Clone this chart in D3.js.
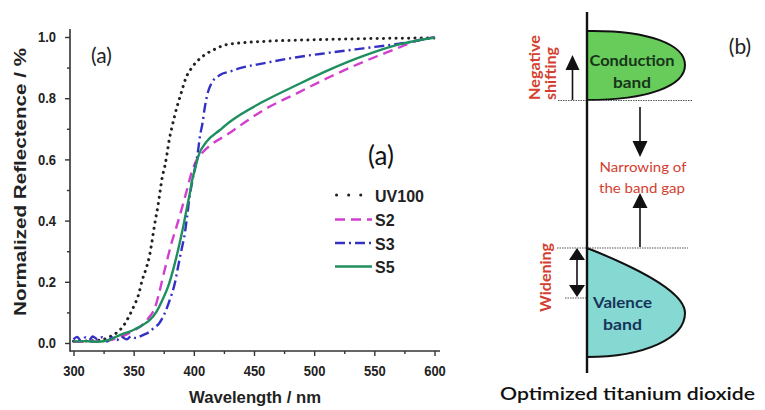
<!DOCTYPE html>
<html lang="en">
<head>
<meta charset="UTF-8">
<title>Reflectance spectra and band diagram</title>
<script src="https://d3js.org/d3.v7.min.js"></script>
<style>
    body { margin: 0; background: #fff; }
    .tick text { font-family: "Liberation Sans", Arial, sans-serif; font-weight: bold; font-size: 13px; fill: #222; }
    .axis-label { font-family: "Liberation Sans", Arial, sans-serif; font-weight: bold; fill: #222; }
    .legend text { font-family: "Liberation Sans", Arial, sans-serif; font-weight: bold; font-size: 16px; fill: #222; }
    .cal { font-family: Lato, "Open Sans", sans-serif; }
    .red { fill: #d4402f; font-weight: bold; }
</style>
</head>
<body>
<svg id="chart" width="765" height="410"></svg>
<script>
// wavelength (nm), normalized reflectance
const uv100 = [[300,0.006],[315,0.007],[325,0.012],[331,0.022],[337,0.037],[342,0.059],[346,0.086],[350,0.119],
    [354,0.157],[357,0.204],[360,0.239],[363,0.282],[365,0.326],[366.5,0.364],[368.3,0.407],[370.3,0.451],
    [371.8,0.491],[373.6,0.538],[375.8,0.576],[377.8,0.62],[379.5,0.663],[381.5,0.70],[384.2,0.745],
    [387,0.785],[389.8,0.821],[393.3,0.865],[398,0.898],[404.4,0.927],[412,0.949],[419,0.963],[426,0.974],
    [440,0.981],[460,0.986],[500,0.991],[550,0.995],[600,0.997]];
const s2 = [[300,0.004],[320,0.005],[335,0.014],[345,0.03],[352,0.045],[358,0.062],[363,0.085],[367.5,0.113],
    [371.1,0.162],[374.4,0.217],[377.8,0.271],[381.4,0.326],[385.6,0.38],[389.7,0.435],[393.9,0.495],
    [398,0.555],[401.7,0.593],[407.8,0.625],[416.1,0.653],[427.2,0.68],[438.3,0.71],[457.8,0.761],
    [485.6,0.816],[513.3,0.87],[541,0.919],[569,0.963],[583,0.985],[600,1.0]];
const s3 = [[300,0.012],[303,0.02],[306,0.008],[310,0.018],[313,0.01],[316,0.021],[320,0.012],[324,0.019],
    [328,0.005],[332,0.018],[336,0.01],[340,0.02],[344,0.012],[348,0.022],[352,0.016],[355,0.021],[359,0.028],
    [363.3,0.037],[367,0.05],[371.1,0.064],[375.8,0.097],[380,0.141],[384.2,0.195],[386.9,0.249],
    [389.7,0.304],[392.5,0.358],[394.4,0.413],[396.1,0.467],[399.4,0.543],[401.7,0.587],[403.6,0.631],
    [405,0.674],[407.2,0.718],[409.2,0.772],[411.1,0.81],[414.7,0.849],[421.7,0.876],[430,0.887],
    [438.3,0.898],[457.8,0.914],[485.6,0.934],[513.3,0.949],[541,0.963],[569,0.977],[581.4,0.985],[600,0.999]];
const s5 = [[300,0.005],[310,0.006],[320,0.004],[330,0.01],[335.6,0.021],[341,0.03],[346.7,0.037],
    [352,0.047],[356.4,0.056],[360,0.065],[363.3,0.075],[368.9,0.102],[373.9,0.141],[378.6,0.184],
    [382.8,0.239],[386.9,0.304],[390.6,0.369],[393.9,0.435],[396.7,0.49],[398.5,0.53],[400.8,0.565],
    [403.6,0.609],[410.6,0.658],[421.7,0.696],[430,0.723],[457.8,0.789],[485.6,0.843],[513.3,0.894],
    [541,0.938],[569,0.974],[596.7,0.996],[600,0.998]];

const seriesNames = ["UV100", "S2", "S3", "S5"];
const seriesData = [uv100, s2, s3, s5];
const seriesColors = ["#222222", "#d23fcf", "#3530c4", "#1f8f5f"];
const seriesDash = ["0.1,6.2", "10,6", "10,4,2,4", null];

const xTicks = [300, 350, 400, 450, 500, 550, 600];
const xMinor = [325, 375, 425, 475, 525, 575];
const yTicks = [0, 0.2, 0.4, 0.6, 0.8, 1.0];
const yMinor = [0.1, 0.3, 0.5, 0.7, 0.9];

const svg = d3.select("#chart");

// ---------- panel (a): spectra ----------
const x = d3.scaleLinear().domain([300, 600]).range([73.5, 434.5]);
const y = d3.scaleLinear().domain([0, 1]).range([343, 37]);
const axisY0 = 351, axisX0 = 70;

const gx = svg.append("g").attr("transform", `translate(0,${axisY0})`)
    .call(d3.axisBottom(x).tickValues(xTicks).tickFormat(d3.format("d")).tickSize(5).tickPadding(9));
gx.select(".domain").remove();
svg.append("g").attr("transform", `translate(0,${axisY0})`)
    .call(d3.axisBottom(x).tickValues(xMinor).tickFormat("").tickSize(3))
    .select(".domain").remove();

const gy = svg.append("g").attr("transform", `translate(${axisX0},0)`)
    .call(d3.axisLeft(y).tickValues(yTicks).tickFormat(d3.format(".1f")).tickSize(5).tickPadding(9));
gy.select(".domain").remove();
svg.append("g").attr("transform", `translate(${axisX0},0)`)
    .call(d3.axisLeft(y).tickValues(yMinor).tickFormat("").tickSize(3))
    .select(".domain").remove();
svg.selectAll(".tick line").attr("stroke", "#333").attr("stroke-width", 1.4);
svg.selectAll(".tick text").attr("transform", "scale(1,1.15)").each(function () {
    // compensate the vertical stretch so labels stay on their ticks
    const t = d3.select(this);
    t.attr("y", (+t.attr("y") || 0) / 1.15);
});

svg.append("line").attr("x1", axisX0).attr("x2", axisX0).attr("y1", 29).attr("y2", axisY0 + 0.7)
    .attr("stroke", "#333").attr("stroke-width", 1.6);
svg.append("line").attr("x1", axisX0).attr("x2", 440).attr("y1", axisY0).attr("y2", axisY0)
    .attr("stroke", "#333").attr("stroke-width", 1.6);

const line = d3.line().x(d => x(d[0])).y(d => y(d[1])).curve(d3.curveMonotoneX);
seriesData.forEach((data, i) => {
    svg.append("path").datum(data)
        .attr("fill", "none")
        .attr("stroke", seriesColors[i])
        .attr("stroke-width", i === 0 ? 3 : 2.4)
        .attr("stroke-linecap", i === 0 ? "round" : "butt")
        .attr("stroke-dasharray", seriesDash[i])
        .attr("d", line);
});

svg.append("text").attr("class", "axis-label").attr("font-size", 16)
    .attr("text-anchor", "middle").attr("x", 255).attr("y", 403)
    .attr("textLength", 132).attr("lengthAdjust", "spacingAndGlyphs").text("Wavelength / nm");
svg.append("text").attr("class", "axis-label").attr("font-size", 17)
    .attr("text-anchor", "middle").attr("transform", "translate(26,182) rotate(-90)")
    .attr("textLength", 268).attr("lengthAdjust", "spacingAndGlyphs")
    .text("Normalized Reflectence / %");

svg.append("text").attr("class", "cal").attr("font-size", 21).attr("x", 91).attr("y", 63).attr("fill", "#222").text("(a)");
svg.append("text").attr("class", "cal").attr("font-size", 26).attr("x", 368).attr("y", 165).attr("fill", "#111").text("(a)");

const legend = svg.append("g").attr("class", "legend");
const legendY = [195, 219.5, 243, 266.5];
seriesNames.forEach((name, i) => {
    legend.append("line").attr("x1", i === 0 ? 336.5 : 335).attr("x2", 372)
        .attr("y1", legendY[i]).attr("y2", legendY[i])
        .attr("stroke", seriesColors[i]).attr("stroke-width", i === 0 ? 3 : 2.4)
        .attr("stroke-linecap", i === 0 ? "round" : "butt")
        .attr("stroke-dasharray", i === 0 ? "0.1,12" : seriesDash[i]);
    legend.append("text").attr("x", 375).attr("y", legendY[i] + 6.5).text(name);
});

// ---------- panel (b): band diagram ----------
const b = svg.append("g");
const axX = 587;

b.append("path")
    .attr("d", `M${axX},31 C650,30 685,45 685,65 C685,86 648,100 ${axX},100 Z`)
    .attr("fill", "#68cc5a").attr("stroke", "#111").attr("stroke-width", 2);
b.append("path")
    .attr("d", `M${axX},248 C625,263 685,290 685,313 C685,338 645,357 ${axX},357 Z`)
    .attr("fill", "#86d8d3").attr("stroke", "#111").attr("stroke-width", 2);

const dotted = [[558, 692, 100.5], [557, 688, 248], [565, axX, 298]];
dotted.forEach(d => b.append("line").attr("x1", d[0]).attr("x2", d[1]).attr("y1", d[2]).attr("y2", d[2])
    .attr("stroke", "#555").attr("stroke-width", 1.2).attr("stroke-dasharray", "1.5,1"));

b.append("line").attr("x1", axX).attr("x2", axX).attr("y1", 12).attr("y2", 373)
    .attr("stroke", "#111").attr("stroke-width", 2.4);

function arrow(xp, yFrom, yTip, head, half) {
    const dir = yTip < yFrom ? 1 : -1;
    b.append("line").attr("x1", xp).attr("x2", xp).attr("y1", yFrom).attr("y2", yTip + dir * head * 0.8)
        .attr("stroke", "#111").attr("stroke-width", 1.6);
    b.append("path").attr("d", `M${xp},${yTip} L${xp - half},${yTip + dir * head} L${xp + half},${yTip + dir * head} Z`)
        .attr("fill", "#111");
}
arrow(572.5, 100, 55, 15, 7);
arrow(640, 107, 157, 16, 7.5);
arrow(640, 247, 193, 15, 7.5);
arrow(577, 273, 248, 12, 8);
arrow(577, 273, 297, 12, 8);

function label(txt, xp, yp, size, len, color, anchor, rot) {
    const t = b.append("text").attr("class", "cal").attr("font-size", size).attr("font-weight", "bold")
        .attr("fill", color).attr("text-anchor", anchor)
        .attr("textLength", len).attr("lengthAdjust", "spacingAndGlyphs").text(txt);
    if (rot) t.attr("transform", `translate(${xp},${yp}) rotate(-90)`);
    else t.attr("x", xp).attr("y", yp);
    return t;
}
label("Conduction", 632, 66, 16, 85, "#17351a", "middle");
label("band", 632, 88, 16, 38, "#17351a", "middle");
label("Valence", 622.5, 308, 16, 59, "#15355a", "middle");
label("band", 622.5, 330, 16, 39, "#15355a", "middle");

label("Negative", 540, 100, 15, 65, "#d4402f", "start", true);
label("shifting", 555.5, 100, 15, 53, "#d4402f", "start", true);
label("Widening", 551, 312, 15, 69, "#d4402f", "start", true);

label("Narrowing of", 643, 172, 14, 87, "#d4402f", "middle").attr("font-weight", "normal");
label("the band gap", 642, 193, 14, 86, "#d4402f", "middle").attr("font-weight", "normal");

b.append("text").attr("class", "cal").attr("font-size", 21).attr("fill", "#222")
    .attr("text-anchor", "middle").attr("x", 740).attr("y", 54).text("(b)");
label("Optimized titanium dioxide", 627.5, 400, 18, 255, "#111", "middle").attr("font-weight", 600);
</script>
</body>
</html>
